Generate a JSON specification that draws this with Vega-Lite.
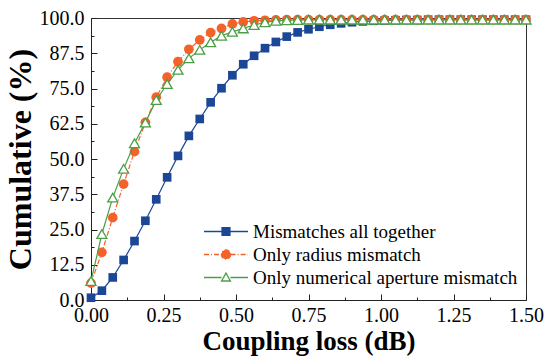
{
  "$schema": "https://vega.github.io/schema/vega-lite/v6.json",
  "width": 435,
  "height": 282,
  "autosize": {"type": "none"},
  "padding": {"left": 91, "top": 18, "right": 26, "bottom": 58},
  "background": "white",
  "config": {
    "view": {"stroke": "#333", "strokeWidth": 1},
    "font": "Liberation Serif",
    "axis": {
      "labelFont": "Liberation Serif", "labelFontSize": 20, "labelColor": "black",
      "titleFont": "Liberation Serif", "titleFontWeight": "bold", "titleColor": "black",
      "domainColor": "#222", "domainWidth": 1, "tickColor": "#222", "tickWidth": 1,
      "grid": false, "labelFlush": false, "labelOverlap": false
    },
    "legend": {
      "orient": "none", "legendX": 112, "legendY": 202,
      "symbolSize": 1936, "symbolStrokeWidth": 1.3, "symbolOpacity": 1,
      "clipHeight": 23,
      "labelFont": "Liberation Serif", "labelFontSize": 19, "labelColor": "black",
      "labelOffset": 4, "rowPadding": 0, "padding": 0, "labelLimit": 400
    }
  },
  "datasets": {
    "d": [
      {"x":0,"y":0.8,"series":"Mismatches all together"},
      {"x":0.0375,"y":3.3,"series":"Mismatches all together"},
      {"x":0.075,"y":8.0,"series":"Mismatches all together"},
      {"x":0.1125,"y":14.2,"series":"Mismatches all together"},
      {"x":0.15,"y":20.9,"series":"Mismatches all together"},
      {"x":0.1875,"y":28.1,"series":"Mismatches all together"},
      {"x":0.225,"y":35.7,"series":"Mismatches all together"},
      {"x":0.2625,"y":43.5,"series":"Mismatches all together"},
      {"x":0.3,"y":51.1,"series":"Mismatches all together"},
      {"x":0.3375,"y":58.2,"series":"Mismatches all together"},
      {"x":0.375,"y":64.2,"series":"Mismatches all together"},
      {"x":0.4125,"y":70.1,"series":"Mismatches all together"},
      {"x":0.45,"y":75.1,"series":"Mismatches all together"},
      {"x":0.4875,"y":79.7,"series":"Mismatches all together"},
      {"x":0.525,"y":83.6,"series":"Mismatches all together"},
      {"x":0.5625,"y":86.6,"series":"Mismatches all together"},
      {"x":0.6,"y":89.3,"series":"Mismatches all together"},
      {"x":0.6375,"y":91.5,"series":"Mismatches all together"},
      {"x":0.675,"y":93.4,"series":"Mismatches all together"},
      {"x":0.7125,"y":94.9,"series":"Mismatches all together"},
      {"x":0.75,"y":96.0,"series":"Mismatches all together"},
      {"x":0.7875,"y":96.9,"series":"Mismatches all together"},
      {"x":0.825,"y":97.6,"series":"Mismatches all together"},
      {"x":0.8625,"y":98.1,"series":"Mismatches all together"},
      {"x":0.9,"y":98.5,"series":"Mismatches all together"},
      {"x":0.9375,"y":98.8,"series":"Mismatches all together"},
      {"x":0.975,"y":99.0,"series":"Mismatches all together"},
      {"x":1.0125,"y":99.1,"series":"Mismatches all together"},
      {"x":1.05,"y":99.2,"series":"Mismatches all together"},
      {"x":1.0875,"y":99.3,"series":"Mismatches all together"},
      {"x":1.125,"y":99.3,"series":"Mismatches all together"},
      {"x":1.1625,"y":99.4,"series":"Mismatches all together"},
      {"x":1.2,"y":99.4,"series":"Mismatches all together"},
      {"x":1.2375,"y":99.4,"series":"Mismatches all together"},
      {"x":1.275,"y":99.4,"series":"Mismatches all together"},
      {"x":1.3125,"y":99.4,"series":"Mismatches all together"},
      {"x":1.35,"y":99.4,"series":"Mismatches all together"},
      {"x":1.3875,"y":99.4,"series":"Mismatches all together"},
      {"x":1.425,"y":99.4,"series":"Mismatches all together"},
      {"x":1.4625,"y":99.4,"series":"Mismatches all together"},
      {"x":1.5,"y":99.4,"series":"Mismatches all together"},
      {"x":0,"y":6.0,"series":"Only radius mismatch"},
      {"x":0.0375,"y":16.9,"series":"Only radius mismatch"},
      {"x":0.075,"y":29.2,"series":"Only radius mismatch"},
      {"x":0.1125,"y":41.1,"series":"Only radius mismatch"},
      {"x":0.15,"y":52.6,"series":"Only radius mismatch"},
      {"x":0.1875,"y":63.0,"series":"Only radius mismatch"},
      {"x":0.225,"y":71.9,"series":"Only radius mismatch"},
      {"x":0.2625,"y":79.0,"series":"Only radius mismatch"},
      {"x":0.3,"y":84.5,"series":"Only radius mismatch"},
      {"x":0.3375,"y":88.9,"series":"Only radius mismatch"},
      {"x":0.375,"y":92.2,"series":"Only radius mismatch"},
      {"x":0.4125,"y":94.8,"series":"Only radius mismatch"},
      {"x":0.45,"y":96.3,"series":"Only radius mismatch"},
      {"x":0.4875,"y":97.9,"series":"Only radius mismatch"},
      {"x":0.525,"y":98.6,"series":"Only radius mismatch"},
      {"x":0.5625,"y":99.0,"series":"Only radius mismatch"},
      {"x":0.6,"y":99.2,"series":"Only radius mismatch"},
      {"x":0.6375,"y":99.3,"series":"Only radius mismatch"},
      {"x":0.675,"y":99.4,"series":"Only radius mismatch"},
      {"x":0.7125,"y":99.4,"series":"Only radius mismatch"},
      {"x":0.75,"y":99.4,"series":"Only radius mismatch"},
      {"x":0.7875,"y":99.4,"series":"Only radius mismatch"},
      {"x":0.825,"y":99.4,"series":"Only radius mismatch"},
      {"x":0.8625,"y":99.4,"series":"Only radius mismatch"},
      {"x":0.9,"y":99.4,"series":"Only radius mismatch"},
      {"x":0.9375,"y":99.4,"series":"Only radius mismatch"},
      {"x":0.975,"y":99.4,"series":"Only radius mismatch"},
      {"x":1.0125,"y":99.4,"series":"Only radius mismatch"},
      {"x":1.05,"y":99.4,"series":"Only radius mismatch"},
      {"x":1.0875,"y":99.4,"series":"Only radius mismatch"},
      {"x":1.125,"y":99.4,"series":"Only radius mismatch"},
      {"x":1.1625,"y":99.4,"series":"Only radius mismatch"},
      {"x":1.2,"y":99.4,"series":"Only radius mismatch"},
      {"x":1.2375,"y":99.4,"series":"Only radius mismatch"},
      {"x":1.275,"y":99.4,"series":"Only radius mismatch"},
      {"x":1.3125,"y":99.4,"series":"Only radius mismatch"},
      {"x":1.35,"y":99.4,"series":"Only radius mismatch"},
      {"x":1.3875,"y":99.4,"series":"Only radius mismatch"},
      {"x":1.425,"y":99.4,"series":"Only radius mismatch"},
      {"x":1.4625,"y":99.4,"series":"Only radius mismatch"},
      {"x":1.5,"y":99.4,"series":"Only radius mismatch"},
      {"x":0,"y":6.7,"series":"Only numerical aperture mismatch"},
      {"x":0.0375,"y":23.4,"series":"Only numerical aperture mismatch"},
      {"x":0.075,"y":36.3,"series":"Only numerical aperture mismatch"},
      {"x":0.1125,"y":46.5,"series":"Only numerical aperture mismatch"},
      {"x":0.15,"y":55.6,"series":"Only numerical aperture mismatch"},
      {"x":0.1875,"y":62.9,"series":"Only numerical aperture mismatch"},
      {"x":0.225,"y":70.9,"series":"Only numerical aperture mismatch"},
      {"x":0.2625,"y":76.6,"series":"Only numerical aperture mismatch"},
      {"x":0.3,"y":81.6,"series":"Only numerical aperture mismatch"},
      {"x":0.3375,"y":85.7,"series":"Only numerical aperture mismatch"},
      {"x":0.375,"y":88.7,"series":"Only numerical aperture mismatch"},
      {"x":0.4125,"y":91.4,"series":"Only numerical aperture mismatch"},
      {"x":0.45,"y":93.7,"series":"Only numerical aperture mismatch"},
      {"x":0.4875,"y":95.1,"series":"Only numerical aperture mismatch"},
      {"x":0.525,"y":96.3,"series":"Only numerical aperture mismatch"},
      {"x":0.5625,"y":97.5,"series":"Only numerical aperture mismatch"},
      {"x":0.6,"y":98.5,"series":"Only numerical aperture mismatch"},
      {"x":0.6375,"y":99.0,"series":"Only numerical aperture mismatch"},
      {"x":0.675,"y":99.2,"series":"Only numerical aperture mismatch"},
      {"x":0.7125,"y":99.3,"series":"Only numerical aperture mismatch"},
      {"x":0.75,"y":99.4,"series":"Only numerical aperture mismatch"},
      {"x":0.7875,"y":99.4,"series":"Only numerical aperture mismatch"},
      {"x":0.825,"y":99.4,"series":"Only numerical aperture mismatch"},
      {"x":0.8625,"y":99.4,"series":"Only numerical aperture mismatch"},
      {"x":0.9,"y":99.4,"series":"Only numerical aperture mismatch"},
      {"x":0.9375,"y":99.4,"series":"Only numerical aperture mismatch"},
      {"x":0.975,"y":99.4,"series":"Only numerical aperture mismatch"},
      {"x":1.0125,"y":99.4,"series":"Only numerical aperture mismatch"},
      {"x":1.05,"y":99.4,"series":"Only numerical aperture mismatch"},
      {"x":1.0875,"y":99.4,"series":"Only numerical aperture mismatch"},
      {"x":1.125,"y":99.4,"series":"Only numerical aperture mismatch"},
      {"x":1.1625,"y":99.4,"series":"Only numerical aperture mismatch"},
      {"x":1.2,"y":99.4,"series":"Only numerical aperture mismatch"},
      {"x":1.2375,"y":99.4,"series":"Only numerical aperture mismatch"},
      {"x":1.275,"y":99.4,"series":"Only numerical aperture mismatch"},
      {"x":1.3125,"y":99.4,"series":"Only numerical aperture mismatch"},
      {"x":1.35,"y":99.4,"series":"Only numerical aperture mismatch"},
      {"x":1.3875,"y":99.4,"series":"Only numerical aperture mismatch"},
      {"x":1.425,"y":99.4,"series":"Only numerical aperture mismatch"},
      {"x":1.4625,"y":99.4,"series":"Only numerical aperture mismatch"},
      {"x":1.5,"y":99.4,"series":"Only numerical aperture mismatch"}
    ]
  },
  "data": {"name": "d"},
  "encoding": {
    "x": {
      "field": "x", "type": "quantitative",
      "scale": {"domain": [0, 1.5], "nice": false, "zero": false},
      "axis": {
        "title": "Coupling loss (dB)",
        "titleFontSize": 27,
        "values": [0,0.125,0.25,0.375,0.5,0.625,0.75,0.875,1,1.125,1.25,1.375,1.5],
        "labelExpr": "datum.value % 0.25 == 0 ? format(datum.value, '.2f') : ''",
        "tickSize": {"condition": {"test": "datum.value % 0.25 == 0", "value": -6}, "value": -3},
        "labelPadding": 11,
        "titlePadding": 0
      }
    },
    "y": {
      "field": "y", "type": "quantitative",
      "scale": {"domain": [0, 100], "nice": false},
      "axis": {
        "title": "Cumulative (%)",
        "titleFontSize": 32,
        "values": [0,6.25,12.5,18.75,25,31.25,37.5,43.75,50,56.25,62.5,68.75,75,81.25,87.5,93.75,100],
        "labelExpr": "datum.value % 12.5 == 0 ? format(datum.value, '.1f') : ''",
        "tickSize": {"condition": {"test": "datum.value % 12.5 == 0", "value": -6}, "value": -3},
        "labelPadding": 13,
        "titlePadding": 2
      }
    }
  },
  "layer": [
    {
      "transform": [{"filter": "datum.series == 'Mismatches all together'"}],
      "mark": {"type": "line", "color": "#1b4796", "strokeWidth": 1.2,
               "point": {"shape": "square", "filled": true, "color": "#1b4796", "size": 75}}
    },
    {
      "transform": [{"filter": "datum.series == 'Only radius mismatch'"}],
      "mark": {"type": "line", "color": "#f4622a", "strokeWidth": 1.2, "strokeDash": [5, 2, 1, 2],
               "point": {"shape": "circle", "filled": true, "color": "#f4622a", "size": 95}}
    },
    {
      "transform": [{"filter": "datum.series == 'Only numerical aperture mismatch'"}],
      "mark": {"type": "line", "color": "#4a9e45", "strokeWidth": 1.2,
               "point": {"shape": "triangle-up", "filled": false, "fill": "white", "stroke": "#4a9e45", "strokeWidth": 1.3, "size": 100}}
    },
    {
      "transform": [{"filter": "false"}],
      "mark": {"type": "point", "filled": true, "opacity": 1},
      "encoding": {
        "shape": {"field": "series", "type": "nominal", "title": null,
          "scale": {"domain": ["Mismatches all together", "Only radius mismatch", "Only numerical aperture mismatch"],
                    "range": ["M-1,0H1M-0.18,-0.18H0.18V0.18H-0.18Z",
                              "M-1,0H-0.21M0.21,0H1M0.21,0A0.21,0.21,0,1,1,-0.21,0A0.21,0.21,0,1,1,0.21,0Z",
                              "M-1,0H-0.2M0.2,0H1M0,-0.2L0.2,0.16L-0.2,0.16Z"]}},
        "fill": {"field": "series", "type": "nominal", "title": null,
          "scale": {"domain": ["Mismatches all together", "Only radius mismatch", "Only numerical aperture mismatch"],
                    "range": ["#1b4796", "#f4622a", "white"]}},
        "stroke": {"field": "series", "type": "nominal", "title": null,
          "scale": {"domain": ["Mismatches all together", "Only radius mismatch", "Only numerical aperture mismatch"],
                    "range": ["#1b4796", "#f4622a", "#4a9e45"]}},
        "strokeDash": {"field": "series", "type": "nominal", "title": null,
          "scale": {"domain": ["Mismatches all together", "Only radius mismatch", "Only numerical aperture mismatch"],
                    "range": [[1, 0], [5, 2, 1, 2], [1, 0]]}}
      }
    }
  ]
}
